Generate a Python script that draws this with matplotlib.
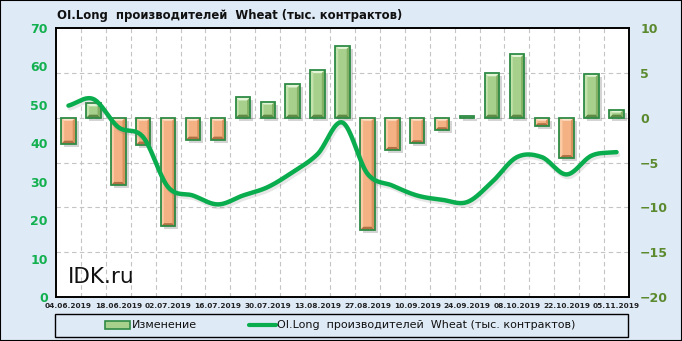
import numpy as np
import matplotlib
matplotlib.use("Agg")
import matplotlib.pyplot as plt
from matplotlib.patches import Polygon, Rectangle
from matplotlib.lines import Line2D

dates = ["04.06.2019", "11.06.2019", "18.06.2019", "25.06.2019", "02.07.2019", "09.07.2019",
         "16.07.2019", "23.07.2019", "30.07.2019", "06.08.2019", "13.08.2019", "20.08.2019",
         "27.08.2019", "03.09.2019", "10.09.2019", "17.09.2019", "24.09.2019", "01.10.2019",
         "08.10.2019", "15.10.2019", "22.10.2019", "29.10.2019", "05.11.2019"]
change = [-2.9, 1.6, -7.5, -3.0, -12.1, -2.45, -2.45, 2.25, 1.8, 3.7, 5.3, 8.0,
          -12.5, -3.6, -2.85, -1.4, 0.2, 4.95, 7.1, -0.95, -4.5, 4.9, 0.9]
oi_long = [49.8, 51.5, 44.2, 41.6, 28.6, 26.4, 24.1, 26.4, 28.6, 32.5, 37.2, 45.4,
           32.1, 29.0, 26.4, 25.3, 24.7, 29.9, 36.4, 36.4, 31.9, 36.8, 37.7]

title = "OI.Long  производителей  Wheat (тыс. контрактов)"
bar_label = "Изменение"
line_label = "OI.Long  производителей  Wheat (тыс. контрактов)"

BG = "#dfeaf7"
GREEN_LINE = "#0aad4e"
LEFT_TXT = "#13b04f"
RIGHT_TXT = "#5b8a2e"
EDGE = "#2e8b45"

POS = dict(face="#a8d08d", top="#e4f4d6", bottom="#5f8a45", left="#c3e2ac", right="#82b064")
NEG = dict(face="#f4b183", top="#fde4cd", bottom="#b07245", left="#f9caa3", right="#d8925e")

def catmull_rom(x, y, n=20):
    x = np.asarray(x, float); y = np.asarray(y, float)
    px = np.concatenate([[2 * x[0] - x[1]], x, [2 * x[-1] - x[-2]]])
    py = np.concatenate([[2 * y[0] - y[1]], y, [2 * y[-1] - y[-2]]])
    xs, ys = [], []
    t = np.linspace(0, 1, n, endpoint=False)
    for i in range(1, len(px) - 2):
        for P, out in ((px, xs), (py, ys)):
            p0, p1, p2, p3 = P[i - 1], P[i], P[i + 1], P[i + 2]
            out.extend(0.5 * ((2 * p1) + (-p0 + p2) * t + (2 * p0 - 5 * p1 + 4 * p2 - p3) * t ** 2
                              + (-p0 + 3 * p1 - 3 * p2 + p3) * t ** 3))
    xs.append(x[-1]); ys.append(y[-1])
    return np.array(xs), np.array(ys)

fig = plt.figure(figsize=(6.82, 3.41), dpi=100, facecolor=BG)
ax2 = fig.add_axes([56 / 682, 1 - 297 / 341, (629 - 56) / 682, (297 - 28) / 341])
ax2.set_facecolor("white")
ax = ax2.twinx()          # line axis (left)
ax.yaxis.tick_left()
ax2.yaxis.tick_right()

x = np.arange(len(dates))
n = len(dates)
ax2.set_xlim(-0.5, n - 0.5)
ax2.set_ylim(-20, 10)
ax.set_ylim(0, 70)

# px -> data units on ax2
ux = n / 573.0
uy = 30 / 269.0

w = 0.58
bx = 3 * ux
for xi, v in zip(x, change):
    c = POS if v >= 0 else NEG
    xl, xr = xi - w / 2, xi + w / 2
    y0, y1 = min(0, v), max(0, v)
    h = y1 - y0
    by = min(3 * uy, h / 2)
    bxx = min(bx, w / 2)
    ax2.add_patch(Rectangle((xl + 3 * ux, y0 - 3 * uy), w, h, facecolor="#555555",
                            alpha=0.25, linewidth=0, zorder=2))
    ax2.add_patch(Rectangle((xl, y0), w, h, facecolor=c["face"], linewidth=0, zorder=3))
    ax2.add_patch(Polygon([(xl, y1), (xr, y1), (xr - bxx, y1 - by), (xl + bxx, y1 - by)],
                          closed=True, facecolor=c["top"], linewidth=0, zorder=4))
    ax2.add_patch(Polygon([(xl, y0), (xr, y0), (xr - bxx, y0 + by), (xl + bxx, y0 + by)],
                          closed=True, facecolor=c["bottom"], linewidth=0, zorder=4))
    ax2.add_patch(Polygon([(xl, y0), (xl + bxx, y0 + by), (xl + bxx, y1 - by), (xl, y1)],
                          closed=True, facecolor=c["left"], linewidth=0, zorder=4))
    ax2.add_patch(Polygon([(xr, y0), (xr - bxx, y0 + by), (xr - bxx, y1 - by), (xr, y1)],
                          closed=True, facecolor=c["right"], linewidth=0, zorder=4))
    ax2.add_patch(Rectangle((xl, y0), w, h, fill=False, edgecolor=EDGE, linewidth=1.3, zorder=5))

ax2.set_yticks(np.arange(-20, 11, 5))
for gy in np.arange(-15, 10, 5):
    ax2.axhline(gy, linestyle=(0, (4, 3)), color="#c4c4c4", linewidth=0.8, zorder=1)
for b in np.arange(0.5, n - 1, 1.0):
    ax2.axvline(b, linestyle=(0, (4, 3)), color="#c4c4c4", linewidth=0.8, zorder=1)

sx, sy = catmull_rom(x, oi_long)
ax.plot(sx + 0.06, sy - 0.7, color="#777777", linewidth=3.2, alpha=0.18,
        solid_capstyle="round", zorder=3)
ax.plot(sx, sy, color=GREEN_LINE, linewidth=3.2, solid_capstyle="round", zorder=4)
ax.set_yticks(np.arange(0, 71, 10))

ax2.set_xticks(x[::2])
ax2.set_xticklabels(dates[::2], fontsize=5.3, fontweight="bold", color="#222222")
ax2.tick_params(axis="x", length=0, pad=4.5)
ax.tick_params(axis="y", length=0, pad=6, labelsize=9, labelcolor=LEFT_TXT)
ax2.tick_params(axis="y", length=0, pad=8, labelsize=9, labelcolor=RIGHT_TXT)
for t in ax.get_yticklabels() + ax2.get_yticklabels():
    t.set_fontweight("bold")

for a in (ax, ax2):
    for s in a.spines.values():
        s.set_color("black")
        s.set_linewidth(1.2)

ax.text(0.02, 0.052, "IDK.ru", transform=ax.transAxes, fontsize=15.5, color="#111111",
        va="baseline", ha="left", zorder=6)

fig.text(57 / 682, 1 - 15 / 341, title, fontsize=8.4, fontweight="bold", va="center",
         ha="left", color="#111111")

def fx(p): return p / 682
def fy(p): return 1 - p / 341
fig.patches.append(Rectangle((fx(55), fy(337)), fx(628) - fx(55), fy(314) - fy(337),
                             transform=fig.transFigure, facecolor=BG, edgecolor="black",
                             linewidth=1.0))
fig.patches.append(Rectangle((fx(105), fy(329)), fx(130) - fx(105), fy(321) - fy(329),
                             transform=fig.transFigure, facecolor="#a8d08d", edgecolor=EDGE,
                             linewidth=1.2))
fig.lines.append(Line2D([fx(249), fx(276)], [fy(325), fy(325)], transform=fig.transFigure,
                        color=GREEN_LINE, linewidth=3, solid_capstyle="round"))
fig.text(fx(132), fy(325.5), bar_label, fontsize=8, va="center", ha="left", color="#111111")
fig.text(fx(277), fy(325.5), line_label, fontsize=8, va="center", ha="left", color="#111111")

fig.patches.append(Rectangle((0, 0), 1, 1, transform=fig.transFigure, fill=False,
                             edgecolor="black", linewidth=1.5))

fig.savefig("out.png", dpi=100, facecolor=BG)
